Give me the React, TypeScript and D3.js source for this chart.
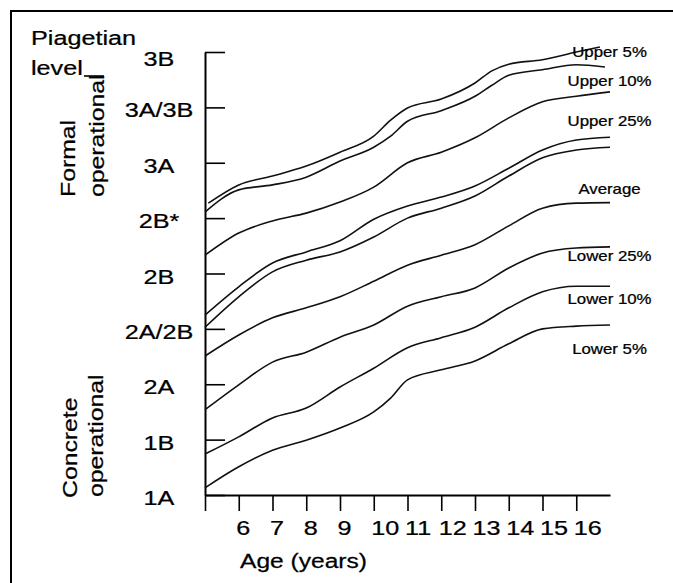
import React, { useEffect, useRef } from 'react';
import * as d3 from 'd3';

type Pt = [number, number];

// Piagetian levels on the y axis (index = numeric level)
const levels = ['1A', '1B', '2A', '2A/2B', '2B', '2B*', '3A', '3A/3B', '3B'];
const ageTicks = [5, 6, 7, 8, 9, 10, 11, 12, 13, 14, 15, 16];

// Curves: [age, level]
const upper5: Pt[] = [[5.1, 5.27], [6, 5.6], [7, 5.76], [8, 5.94], [9, 6.19], [10, 6.48], [10.5, 6.77], [11, 6.99], [12, 7.15], [13, 7.44], [13.5, 7.66], [14, 7.78], [15, 7.86], [16, 8.0], [16.7, 8.09]];
const upper10: Pt[] = [[5, 5.11], [6, 5.51], [7, 5.6], [8, 5.74], [9, 6.03], [10, 6.28], [10.5, 6.48], [11, 6.75], [12, 6.94], [13, 7.2], [13.5, 7.4], [14, 7.58], [15, 7.68], [16, 7.77], [16.85, 7.73]];
const upper20: Pt[] = [[5, 4.33], [6, 4.73], [7, 4.95], [8, 5.09], [9, 5.29], [10, 5.56], [11, 6.0], [12, 6.19], [13, 6.45], [14, 6.81], [15, 7.1], [16, 7.2], [17, 7.28]];
const upper25: Pt[] = [[5, 3.25], [6, 3.76], [7, 4.19], [8, 4.39], [9, 4.59], [10, 4.98], [11, 5.22], [12, 5.38], [13, 5.58], [14, 5.9], [15, 6.23], [16, 6.41], [17, 6.46]];
const upper40: Pt[] = [[5, 3.03], [6, 3.58], [7, 4.03], [8, 4.24], [9, 4.39], [10, 4.66], [11, 5.0], [12, 5.18], [13, 5.4], [14, 5.76], [15, 6.09], [16, 6.23], [17, 6.28]];
const average: Pt[] = [[5, 2.51], [6, 2.89], [7, 3.2], [8, 3.38], [9, 3.58], [10, 3.86], [11, 4.15], [12, 4.33], [13, 4.52], [14, 4.86], [15, 5.18], [16, 5.27], [17, 5.28]];
const lower25: Pt[] = [[5, 1.54], [6, 1.99], [7, 2.4], [8, 2.58], [9, 2.85], [10, 3.07], [11, 3.41], [12, 3.58], [13, 3.74], [14, 4.1], [15, 4.37], [16, 4.46], [17, 4.48]];
const lower10: Pt[] = [[5, 0.74], [6, 1.05], [7, 1.39], [8, 1.57], [9, 1.95], [10, 2.29], [11, 2.66], [12, 2.84], [13, 3.03], [14, 3.38], [15, 3.67], [16, 3.77], [17, 3.77]];
const lower5: Pt[] = [[5, 0.13], [6, 0.51], [7, 0.81], [8, 0.99], [9, 1.21], [10, 1.5], [10.5, 1.75], [11, 2.08], [12, 2.26], [13, 2.42], [14, 2.73], [15, 3.0], [16, 3.05], [17, 3.07]];

const curves = [upper5, upper10, upper20, upper25, upper40, average, lower25, lower10, lower5];

// Curve labels at the right end: [text, level of baseline]
const curveLabels: [string, number][] = [
  ['Upper 5%', 7.91],
  ['Upper 10%', 7.39],
  ['Upper 25%', 6.66],
  ['Average', 5.44],
  ['Lower 25%', 4.23],
  ['Lower 10%', 3.45],
  ['Lower 5%', 2.55],
];

const WIDTH = 673;
const HEIGHT = 583;
const FONT = '"Liberation Sans", Arial, Helvetica, sans-serif';

const App: React.FC = () => {
  const svgRef = useRef<SVGSVGElement>(null);

  useEffect(() => {
    const svg = d3.select(svgRef.current);
    svg.selectAll('*').remove();

    const x = d3.scaleLinear().domain([5, 17]).range([205, 610]);
    const y = d3.scaleLinear().domain([0, levels.length - 1]).range([495, 52]);

    // wide-ish text: the scan is stretched horizontally
    const addText = (
      str: string,
      tx: number,
      ty: number,
      opts: { size?: number; anchor?: string; rotate?: boolean; sx?: number } = {}
    ) => {
      const { size = 21, anchor = 'start', rotate = false, sx = 1.2 } = opts;
      svg.append('text')
        .attr('transform', `translate(${tx},${ty})${rotate ? ' rotate(-90)' : ''} scale(${sx},1)`)
        .attr('text-anchor', anchor)
        .attr('font-family', FONT)
        .attr('font-size', size)
        .attr('fill', '#000')
        .attr('stroke', '#000')
        .attr('stroke-width', 0.25)
        .text(str);
    };

    // Frame
    svg.append('line').attr('x1', 11).attr('x2', WIDTH).attr('y1', 11).attr('y2', 11)
      .attr('stroke', '#000').attr('stroke-width', 2);
    svg.append('line').attr('x1', 11).attr('x2', 11).attr('y1', 10).attr('y2', HEIGHT)
      .attr('stroke', '#000').attr('stroke-width', 2);

    // X axis
    const xAxis = d3.axisBottom(x)
      .tickValues(ageTicks)
      .tickSize(16)
      .tickSizeOuter(0)
      .tickFormat(() => '');
    const gx = svg.append('g')
      .attr('transform', 'translate(0,495)')
      .attr('color', '#000')
      .call(xAxis);
    gx.selectAll('text').remove();
    gx.select('.domain').attr('stroke-width', 2);
    gx.selectAll('.tick line').attr('stroke-width', 1.6);

    // Y axis, ticks pointing into the plot
    const yAxis = d3.axisLeft(y)
      .tickValues(d3.range(levels.length))
      .tickSizeInner(-20)
      .tickSizeOuter(0)
      .tickFormat(() => '');
    const gy = svg.append('g')
      .attr('transform', 'translate(205,0)')
      .attr('color', '#000')
      .call(yAxis);
    gy.selectAll('text').remove();
    gy.select('.domain').attr('stroke-width', 2);
    gy.selectAll('.tick line').attr('stroke-width', 1.6);

    // Y tick labels
    levels.forEach((lv, i) => {
      addText(lv, 159, y(i) + (lv === '3B' ? 14 : 10), { anchor: 'middle' });
    });

    // X tick labels
    ageTicks.filter(a => a > 5).forEach(a => {
      addText(String(a), x(a) - 2.5, 535);
    });

    addText('Age (years)', 240, 568, { sx: 1.17 });

    // Left titles
    addText('Piagetian', 31, 45);
    addText('level', 31, 75);
    svg.append('line').attr('x1', 84).attr('x2', 104).attr('y1', 76).attr('y2', 76)
      .attr('stroke', '#000').attr('stroke-width', 1.6);

    addText('Formal', 75, 197, { rotate: true, sx: 1.18 });
    addText('operational', 103.5, 197, { rotate: true, sx: 1.18 });
    addText('Concrete', 76.5, 498, { rotate: true, sx: 1.18 });
    addText('operational', 103, 497, { rotate: true, sx: 1.18 });

    // Curves
    const line = d3.line<Pt>()
      .x(d => x(d[0]))
      .y(d => y(d[1]))
      .curve(d3.curveMonotoneX);

    svg.append('g')
      .selectAll('path')
      .data(curves)
      .enter()
      .append('path')
      .attr('d', d => line(d))
      .attr('fill', 'none')
      .attr('stroke', '#111')
      .attr('stroke-width', 1.6);

    // Curve labels
    curveLabels.forEach(([txt, lv]) => {
      addText(txt, x(17) - 0.5, y(lv), { size: 14, anchor: 'middle' });
    });
  }, []);

  return (
    <svg
      ref={svgRef}
      width={WIDTH}
      height={HEIGHT}
      style={{ position: 'absolute', left: 0, top: 0, background: '#fff' }}
    />
  );
};

export default App;
